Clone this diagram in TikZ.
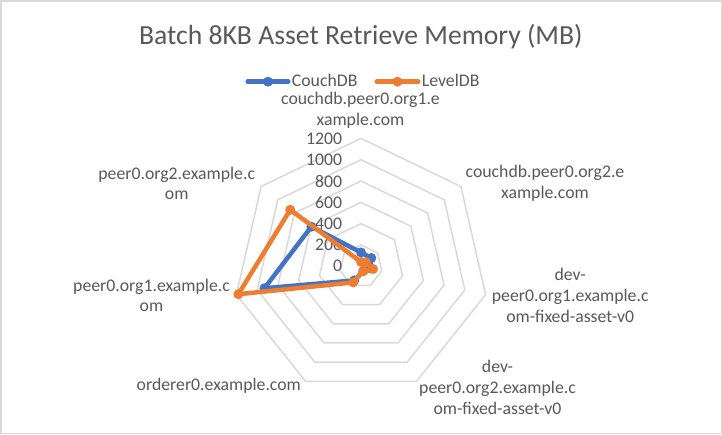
\documentclass[tikz,border=0pt]{standalone}
\usepackage{fontspec}
\setmainfont{Carlito}
\usetikzlibrary{calc}
\definecolor{txt}{HTML}{595959}
\definecolor{gridc}{HTML}{D9D9D9}
\definecolor{sblue}{HTML}{4472C4}
\definecolor{sorange}{HTML}{ED7D31}
\begin{document}
\begin{tikzpicture}[x=1pt,y=-1pt,
  lbl/.style={font=\fontsize{17.75}{20.7}\selectfont, text=txt, inner sep=0pt, align=center},
  ttl/.style={font=\fontsize{27.66}{33}\selectfont, text=txt, inner sep=0pt},
  ring/.style={draw=gridc, line width=1.5pt},
  serB/.style={draw=sblue, line width=4.5pt, line join=round, line cap=round},
  serO/.style={draw=sorange, line width=4.5pt, line join=round, line cap=round},
  mkB/.style={circle, fill=sblue, inner sep=0pt, minimum size=10pt},
  mkO/.style={circle, fill=sorange, inner sep=0pt, minimum size=10pt},
]
\def\cx{361}
\def\cy{266.2}
\def\st{21.3}
\def\sc{0.1065}
\fill[white] (0,0) rectangle (722,434);
\draw[gridc, line width=1.5pt] (0.75,0.75) rectangle (721.25,433.25);
\useasboundingbox (0,0) rectangle (722,434);

% title
\node[ttl, anchor=base] (title) at (360.8,44.3) {Batch 8KB Asset Retrieve Memory (MB)};

% rings
\foreach \k in {1,...,6}{
  \draw[ring] (\cx,{\cy-\st*\k}) \foreach \i in {1,...,6}{ -- ({\cx+\st*\k*sin(\i*360/7)},{\cy-\st*\k*cos(\i*360/7)}) } -- cycle;
}

% value labels
\foreach \v [count=\k from 0] in {0,200,400,600,800,1000,1200}
  \node[lbl, anchor=east] (t\v) at (342.3,{\cy-\st*\k}) {\v};

% category labels
\node[lbl] (L0) at (360.5,110) {couchdb.peer0.org1.e\\xample.com};
\node[lbl] (L1) at (545,183.5) {couchdb.peer0.org2.e\\xample.com};
\node[lbl] (L2) at (570.2,295.5) {dev-\\peer0.org1.example.c\\om-fixed-asset-v0};
\node[lbl] (L3) at (497.5,387.2) {dev-\\peer0.org2.example.c\\om-fixed-asset-v0};
\node[lbl, anchor=base] (L4) at (218.8,390) {orderer0.example.com};
\node[lbl] (L5) at (151.5,295.5) {peer0.org1.example.c\\om};
\node[lbl] (L6) at (176.7,183.5) {peer0.org2.example.c\\om};

% data points
\foreach \v [count=\i from 0] in {129,124,90,50,148,930,596}
  \coordinate (b\i) at ({\cx+\sc*\v*sin(\i*360/7)},{\cy-\sc*\v*cos(\i*360/7)});
\foreach \v [count=\i from 0] in {40,60,116,50,169,1181,850}
  \coordinate (o\i) at ({\cx+\sc*\v*sin(\i*360/7)},{\cy-\sc*\v*cos(\i*360/7)});

% CouchDB series
\draw[serB] (b0) -- (b1) -- (b2) -- (b3) -- (b4) -- (b5) -- (b6) -- cycle;
\foreach \i in {0,...,6} \node[mkB] (mb\i) at (b\i) {};
% LevelDB series
\draw[serO] (o0) -- (o1) -- (o2) -- (o3) -- (o4) -- (o5) -- (o6) -- cycle;
\foreach \i in {0,...,6} \node[mkO] (mo\i) at (o\i) {};

% legend
\coordinate (lbA) at (247.7,81.7);
\coordinate (lbB) at (288.3,81.7);
\draw[serB] (lbA) -- (lbB);
\node[mkB] (lbM) at (268,81.7) {};
\node[lbl, anchor=base west] (lbT) at (291.7,86.7) {CouchDB};
\coordinate (loA) at (376.7,81.7);
\coordinate (loB) at (418.3,81.7);
\draw[serO] (loA) -- (loB);
\node[mkO] (loM) at (397.5,81.7) {};
\node[lbl, anchor=base west] (loT) at (421.7,86.7) {LevelDB};
\end{tikzpicture}
\end{document}
